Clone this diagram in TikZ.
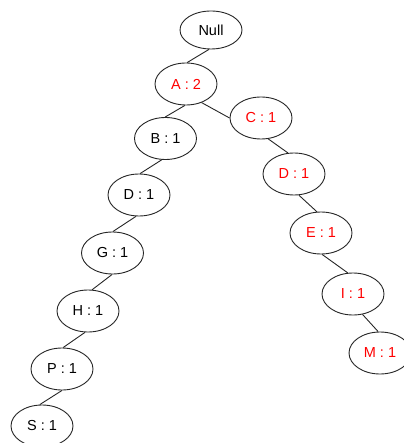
\documentclass[tikz,border=0pt]{standalone}
\usepackage{fontspec}
\setmainfont{Liberation Sans}
\usetikzlibrary{shapes.geometric}
\begin{document}
\begin{tikzpicture}[x=1pt,y=-1pt,
  nd/.style={ellipse,draw=black!85,line width=0.9pt,minimum width=62pt,minimum height=42pt,inner sep=0pt,font=\fontsize{14.5}{16}\selectfont},
  rd/.style={nd,text=red},
  edge/.style={draw=black!85,line width=0.9pt}]
\useasboundingbox (0,0) rectangle (403,443);
\node[nd,minimum height=38pt] (null) at (211,30) {Null};
\node[rd] (a) at (186,84) {A : 2};
\node[nd] (b) at (165.5,138.5) {B : 1};
\node[nd] (d) at (139,195) {D : 1};
\node[nd] (g) at (112.5,253) {G : 1};
\node[nd] (h) at (88,311) {H : 1};
\node[nd] (p) at (62,369) {P : 1};
\node[nd] (s) at (42,426) {S : 1};
\node[rd] (c) at (261,118) {C : 1};
\node[rd] (d2) at (294,174) {D : 1};
\node[rd] (e) at (321,233) {E : 1};
\node[rd] (i) at (353,294) {I : 1};
\node[rd] (m) at (380,353) {M : 1};
\draw[edge] (null.-96) -- (a.87);
\draw[edge] (a.-93) -- (b.91);
\draw[edge] (a.-50) -- (c.west);
\draw[edge] (b.-100) -- (d.87);
\draw[edge] (d.-98) -- (g.89);
\draw[edge] (g.-91) -- (h.79);
\draw[edge] (h.-98) -- (p.87);
\draw[edge] (p.-90) -- (s.96);
\draw[edge] (c.-71) -- (d2.106);
\draw[edge] (d2.-77) -- (e.101);
\draw[edge] (e.-87) -- (i.104);
\draw[edge] (i.-65) -- (m.95);
\end{tikzpicture}
\end{document}
